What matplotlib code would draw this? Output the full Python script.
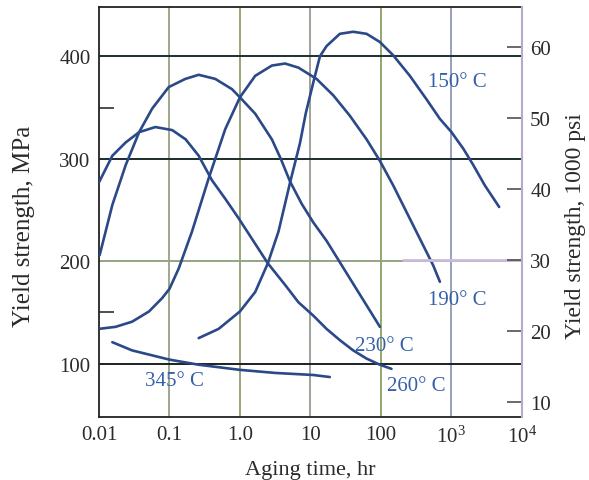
import numpy as np
import matplotlib
matplotlib.use('Agg')
import matplotlib.pyplot as plt
from matplotlib.ticker import FixedLocator, NullLocator

plt.rcParams['font.family'] = ['Liberation Serif', 'DejaVu Serif']
plt.rcParams['mathtext.fontset'] = 'custom'
plt.rcParams['mathtext.rm'] = 'Liberation Serif'

# curves: log10(aging time, hr) and yield strength (MPa)
lt150 = [-0.585, -0.302, 0.0, 0.217, 0.396, 0.547, 0.712, 0.851, 0.936, 1.05, 1.135, 1.229,
         1.418, 1.607, 1.797, 1.986, 2.175, 2.411, 2.648, 2.837, 3.002, 3.168, 3.31, 3.475, 3.678]
ys150 = [125, 134, 151, 170, 198, 229, 277, 315, 345, 377, 400, 410,
         422, 424, 422, 414, 401, 381, 358, 339, 326, 310, 294, 274, 253]

lt190 = [-2.0, -1.764, -1.53, -1.29, -1.104, -1.0, -0.868, -0.68, -0.443, -0.208, 0.0, 0.217,
         0.453, 0.64, 0.83, 1.087, 1.324, 1.56, 1.797, 1.986, 2.175, 2.364, 2.553, 2.742, 2.837]
ys190 = [134, 136, 141, 151, 164, 173, 193, 229, 281, 329, 360, 381,
         391, 393, 389, 378, 362, 342, 319, 298, 274, 248, 222, 196, 180]

lt230 = [-1.99, -1.81, -1.62, -1.43, -1.245, -1.01, -0.774, -0.585, -0.35, -0.113, 0.0, 0.217,
         0.453, 0.58, 0.71, 0.877, 1.04, 1.229, 1.418, 1.607, 1.797, 1.986]
ys230 = [206, 255, 294, 326, 349, 370, 378, 382, 378, 368, 360, 344,
         319, 300, 278, 256, 238, 220, 199, 178, 157, 136]

lt260 = [-2.0, -1.81, -1.62, -1.43, -1.2, -0.96, -0.77, -0.585, -0.396, -0.208, -0.019, 0.17,
         0.396, 0.64, 0.83, 1.04, 1.229, 1.418, 1.607, 1.797, 1.986, 2.15]
ys260 = [277, 303, 316, 326, 331, 328, 319, 303, 279, 261, 242, 222,
         198, 177, 160, 147, 134, 123, 113, 105, 99, 95]

lt345 = [-1.81, -1.53, -1.0, -0.585, 0.0, 0.5, 1.04, 1.275]
ys345 = [121, 113, 104, 99, 94, 91, 89, 87]

curve_lt = [lt150, lt190, lt230, lt260, lt345]
curve_ys = [ys150, ys190, ys230, ys260, ys345]
labels = ['150° C', '190° C', '230° C', '260° C', '345° C']
label_lt = [2.667, 2.667, 1.631, 2.085, -1.348]
label_ys = [375, 163, 118, 79, 84]

xticks = [0.01, 0.1, 1.0, 10, 100, 1e3, 1e4]
xticklabels = ['0.01', '0.1', '1.0', '10', '100', r'$\mathregular{10^3}$', r'$\mathregular{10^4}$']
yticks = [100, 200, 300, 400]
ytick_minor = [150, 350]
psi_ticks = [10, 20, 30, 40, 50, 60]

fig = plt.figure(figsize=(5.89, 4.81), dpi=100)
ax = fig.add_axes([0.168, 0.131, 0.718, 0.852])

vcol = ['#8c9a78', '#8a9560', '#8c9484', '#7f9a55', '#8890b0']
for xv, c in zip(xticks[1:-1], vcol):
    ax.axvline(xv, color=c, lw=1.2, zorder=1)
hcol = ['#1c2020', '#93a585', '#1a2c2c', '#1a3030']
for yv, c in zip(yticks, hcol):
    ax.axhline(yv, color=c, lw=1.4, zorder=1)

curve_col = '#2b4888'
for lt, ys in zip(curve_lt, curve_ys):
    ax.plot(10 ** np.array(lt), ys, color=curve_col, lw=1.9, zorder=3,
            solid_joinstyle='round', solid_capstyle='round')

for s, lx, ly in zip(labels, label_lt, label_ys):
    ax.text(10 ** lx, ly, s, color='#3560a8', fontsize=15, ha='left', va='center', zorder=4)

ax.set_xscale('log')
ax.set_xlim(0.01, 1e4)
ax.set_ylim(48, 448)
ax.xaxis.set_major_locator(FixedLocator(xticks))
ax.xaxis.set_minor_locator(NullLocator())
ax.set_xticklabels(xticklabels)
ax.set_yticks(yticks)
ax.yaxis.set_minor_locator(FixedLocator(ytick_minor))
ax.tick_params(axis='both', which='major', length=0, labelsize=15, pad=6, labelcolor='#2a2a2a')
ax.tick_params(axis='y', which='minor', direction='in', length=11, width=1.2, color='#303030')
for side in ['left', 'bottom', 'top']:
    ax.spines[side].set_color('#222222')
    ax.spines[side].set_linewidth(1.3)
ax.spines['right'].set_visible(False)

ax.set_xlabel('Aging time, hr', fontsize=16, color='#2a2a2a')
ax.xaxis.set_label_coords(0.5, -0.105)

ax2 = ax.twinx()
ax2.set_ylim(7.9, 65.6)
ax2.set_yticks(psi_ticks)
ax2.hlines(30, 200, 1e4, color='#cbbad8', lw=2.0, zorder=0)
ax2.tick_params(axis='y', direction='in', length=11, width=1.2, color='#505050',
                labelsize=15, pad=6, labelcolor='#2a2a2a')
for side in ['left', 'bottom', 'top']:
    ax2.spines[side].set_visible(False)
ax2.spines['right'].set_color('#b8a8cc')
ax2.spines['right'].set_linewidth(1.5)

fig.text(24 / 589, 1 - 226 / 481, 'Yield strength, MPa', fontsize=18, color='#2a2a2a',
         rotation=90, ha='center', va='center')
fig.text(576 / 589, 1 - 226 / 481, 'Yield strength, 1000 psi', fontsize=17, color='#2a2a2a',
         rotation=90, ha='center', va='center')

plt.savefig('out.png', dpi=100)
